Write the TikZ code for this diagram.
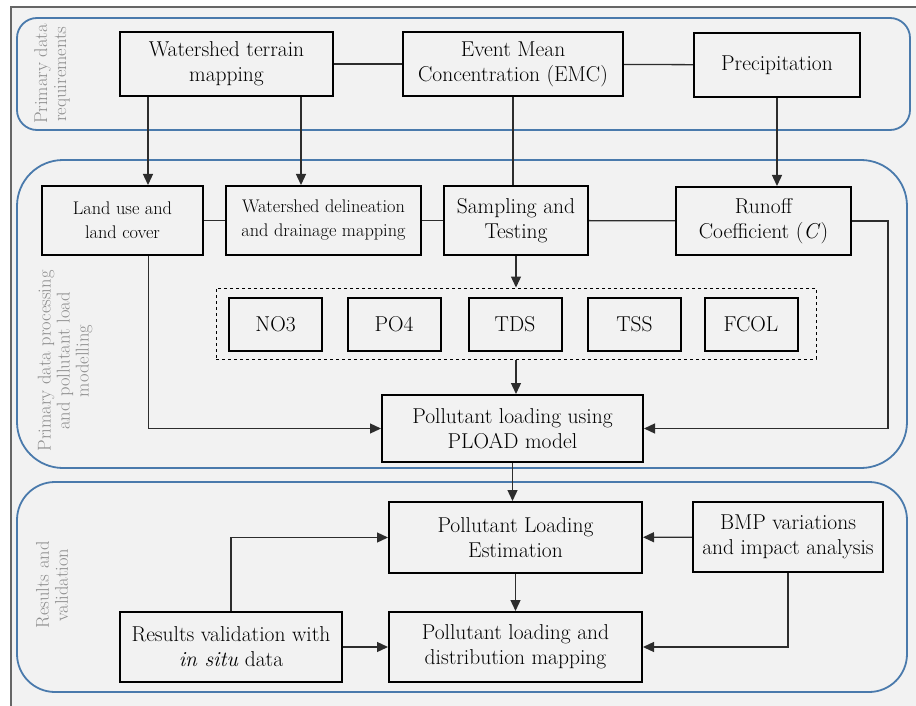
\documentclass[tikz,border=0pt]{standalone}
\usepackage{fontspec}
\usepackage{tikz}
\usetikzlibrary{arrows.meta,positioning,fit,shapes.geometric,backgrounds}
\pgfdeclarelayer{panellayer}
\pgfdeclarelayer{edgelayer}
\pgfdeclarelayer{nodelayer}
\pgfsetlayers{panellayer,edgelayer,nodelayer,main}
\definecolor{sheet}{RGB}{242,242,242}
\definecolor{panelblue}{RGB}{74,122,172}
\definecolor{labelgray}{RGB}{140,140,140}
\definecolor{edgegray}{RGB}{45,45,45}
\tikzstyle{task}=[rectangle,fill=sheet,draw=black,line width=2pt,align=center,inner sep=2pt,font=\fontsize{21.5}{25}\selectfont]
\tikzstyle{smalltask}=[task,font=\fontsize{18.3}{24}\selectfont]
\tikzstyle{param}=[rectangle,fill=sheet,draw=black,line width=2pt,minimum width=93pt,minimum height=53pt,font=\fontsize{21.5}{25}\selectfont]
\tikzstyle{group}=[rectangle,draw=black,dashed,line width=1pt]
\tikzstyle{panel}=[draw=panelblue,line width=1.8pt]
\tikzstyle{panellabel}=[rotate=90,align=center,text=labelgray,font=\fontsize{18.5}{19}\selectfont]
\tikzstyle{inarrow}=[-{Triangle[length=11pt,width=10pt]},draw=edgegray,line width=1.3pt]
\tikzstyle{link}=[draw=edgegray,line width=1.3pt]

\begin{document}
\begin{tikzpicture}[x=1pt,y=-1pt]
	\useasboundingbox (0,0) rectangle (916,706);
	\clip (0,0) rectangle (916,706);
	\begin{pgfonlayer}{panellayer}
		\draw [fill=sheet, draw=black!60, line width=1.2pt] (11,7) rectangle (940,730);
		\draw [style=panel, rounded corners=20pt] (17,18) rectangle (910,130);
		\draw [style=panel, rounded corners=46pt] (17,160) rectangle (907,468);
		\draw [style=panel, rounded corners=38pt] (17,482) rectangle (907,692);
		\node [style=panellabel] (req) at (52,74) {Primary data\\requirements};
		\node [style=panellabel] (proc) at (65,361) {Primary data processing\\and pollutant load\\modelling};
		\node [style=panellabel] (res) at (52,585) {Results and\\validation};
	\end{pgfonlayer}
	\begin{pgfonlayer}{nodelayer}
		% primary data requirements
		\node [style=task, minimum width=213pt, minimum height=64pt] (terrain) at (226.5,64) {Watershed terrain\\mapping};
		\node [style=task, minimum width=220pt, minimum height=64pt] (emc) at (513,64) {Event Mean\\Concentration (EMC)};
		\node [style=task, minimum width=166pt, minimum height=64pt] (precip) at (777,65) {Precipitation};
		% processing and modelling
		\node [style=smalltask, minimum width=161pt, minimum height=69pt] (landuse) at (122.5,220.5) {Land use and\\land cover};
		\node [style=smalltask, minimum width=195pt, minimum height=69pt] (delin) at (323.5,220.5) {Watershed delineation\\and drainage mapping};
		\node [style=task, minimum width=144pt, minimum height=69pt] (sampling) at (516,220.5) {Sampling and\\Testing};
		\node [style=task, minimum width=175pt, minimum height=68pt] (runoff) at (763.5,221) {Runoff\\Coefficient (\textit{C})};
		\node [style=group, minimum width=600pt, minimum height=71pt] (pol) at (516,323.5) {};
		\node [style=param] (no3) at (275.5,324.5) {NO3};
		\node [style=param] (po4) at (394,324.5) {PO4};
		\node [style=param] (tds) at (515,324.5) {TDS};
		\node [style=param] (tss) at (634.5,324.5) {TSS};
		\node [style=param] (fcol) at (751,324.5) {FCOL};
		\node [style=task, minimum width=261pt, minimum height=67pt] (pload) at (512.5,428.5) {Pollutant loading using\\PLOAD model};
		% results and validation
		\node [style=task, minimum width=253pt, minimum height=71pt] (ple) at (515.5,537.5) {Pollutant Loading\\Estimation};
		\node [style=task, minimum width=190pt, minimum height=70pt] (bmp) at (788,537) {BMP variations\\and impact analysis};
		\node [style=task, minimum width=253pt, minimum height=70pt] (mapping) at (515.5,647) {Pollutant loading and\\distribution mapping};
		\node [style=task, minimum width=222pt, minimum height=70pt] (valid) at (231,647) {Results validation with\\\textit{in situ} data};
	\end{pgfonlayer}
	\begin{pgfonlayer}{edgelayer}
		\draw [style=link] (terrain) to (emc);
		\draw [style=link] (emc) to (precip);
		\draw [style=link] (landuse) to (delin);
		\draw [style=link] (delin) to (sampling);
		\draw [style=link] (sampling) to (runoff);
		\draw [style=inarrow] ([xshift=29pt]terrain.south west) to ([xshift=29pt]terrain.south west |- landuse.north);
		\draw [style=inarrow] ([xshift=-33pt]terrain.south east) to ([xshift=-33pt]terrain.south east |- delin.north);
		\draw [style=link] (emc.south) to (emc.south |- sampling.north);
		\draw [style=inarrow] (precip.south) to (precip.south |- runoff.north);
		\draw [style=inarrow] (sampling.south) to (sampling.south |- pol.north);
		\draw [style=inarrow] (pol.south) to (pol.south |- pload.north);
		\draw [style=inarrow] ([xshift=26pt]landuse.south) |- (pload.west);
		\draw [style=inarrow] (runoff.east) -- ++(36,0) |- (pload.east);
		\draw [style=inarrow] (pload.south) to (pload.south |- ple.north);
		\draw [style=inarrow] (bmp) to (ple);
		\draw [style=inarrow] (ple) to (mapping);
		\draw [style=inarrow] (bmp.south) |- (mapping.east);
		\draw [style=inarrow] (valid) to (mapping);
		\draw [style=inarrow] (valid.north) |- (ple.west);
	\end{pgfonlayer}
\end{tikzpicture}
\end{document}
